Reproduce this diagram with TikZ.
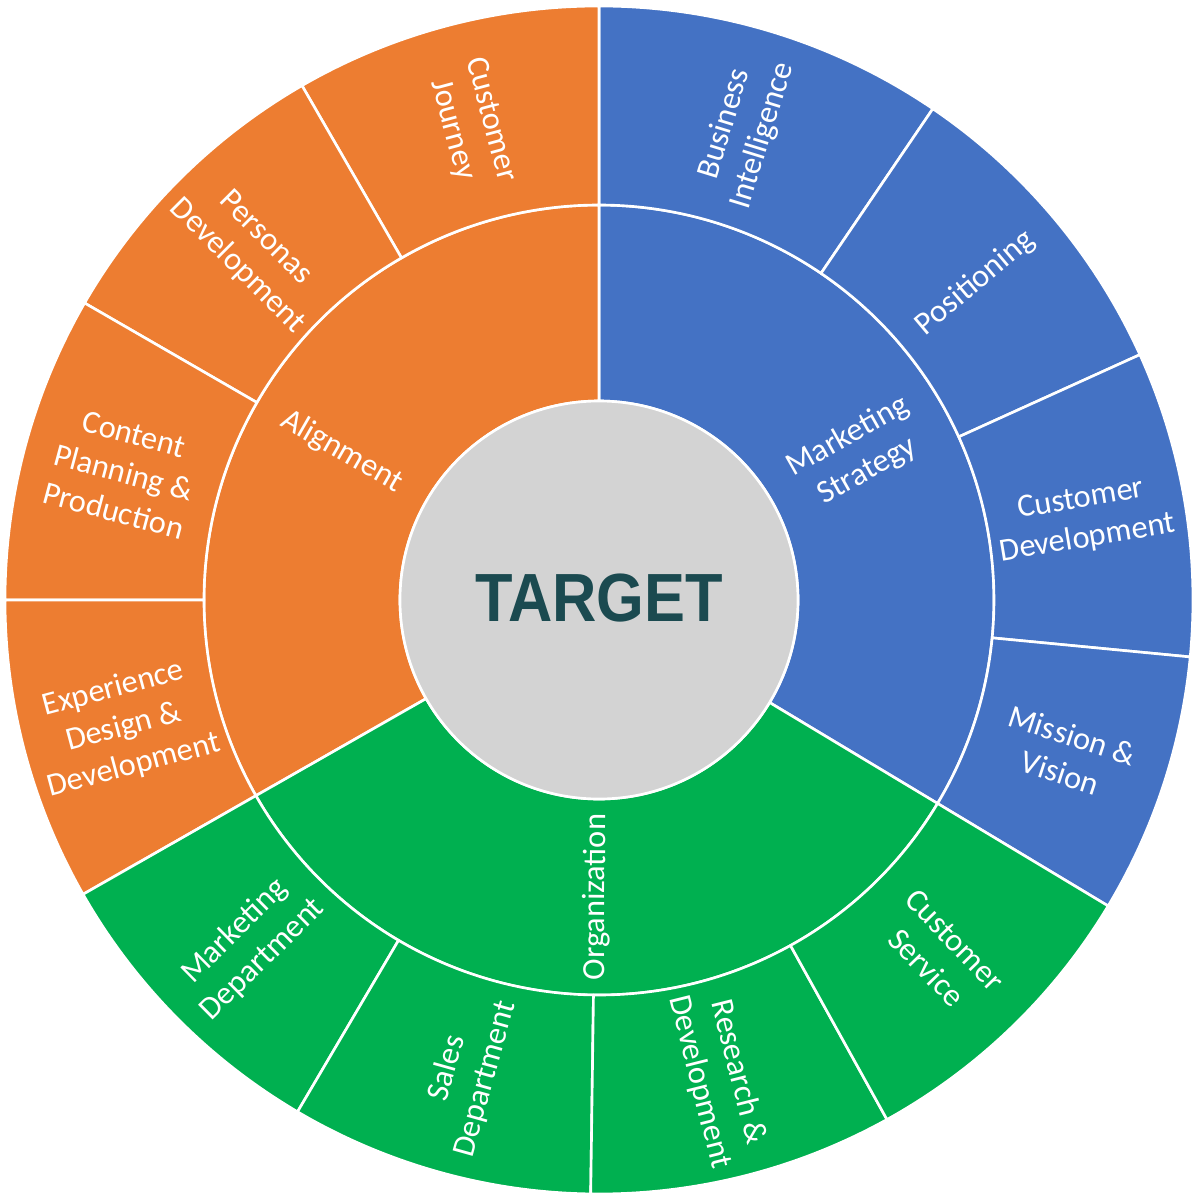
\documentclass[tikz,border=0pt]{standalone}
\usepackage{fontspec}
\setmainfont{Carlito}
\newfontfamily\targetfont{Liberation Sans}
\definecolor{sbBlue}{HTML}{4472C4}
\definecolor{sbOrange}{HTML}{ED7D31}
\definecolor{sbGreen}{HTML}{00B050}
\definecolor{sbGray}{HTML}{D3D3D3}
\definecolor{sbTeal}{RGB}{27,74,80}
\newcommand{\sbSector}[5]{% color, a1, a2, r1, r2
  \filldraw[fill=#1, sector] (#2:#4) arc[start angle=#2, end angle=#3, radius=#4]
    -- (#3:#5) arc[start angle=#3, end angle=#2, radius=#5] -- cycle;}
\begin{document}
\begin{tikzpicture}[
  sector/.style={draw=white, line width=0.75pt, line join=round},
  lbl/.style={text=white, align=center, font=\fontsize{9.2}{11.3}\selectfont, inner sep=0pt},
]
\useasboundingbox (-5.99,-6.00) rectangle (6.01,6.00);
\def\ra{1.99}
\def\rb{3.95}
\def\rc{5.94}
% middle ring
\sbSector{sbBlue}{-31}{90}{\ra}{\rb}
\sbSector{sbOrange}{90}{209.7}{\ra}{\rb}
\sbSector{sbGreen}{209.7}{329}{\ra}{\rb}
% outer ring blue
\sbSector{sbBlue}{55.8}{90}{\rb}{\rc}
\sbSector{sbBlue}{24.4}{55.8}{\rb}{\rc}
\sbSector{sbBlue}{-5.5}{24.4}{\rb}{\rc}
\sbSector{sbBlue}{-31}{-5.5}{\rb}{\rc}
% outer ring orange
\sbSector{sbOrange}{90}{120}{\rb}{\rc}
\sbSector{sbOrange}{120}{150}{\rb}{\rc}
\sbSector{sbOrange}{150}{180}{\rb}{\rc}
\sbSector{sbOrange}{180}{209.7}{\rb}{\rc}
% outer ring green
\sbSector{sbGreen}{209.7}{239.5}{\rb}{\rc}
\sbSector{sbGreen}{239.5}{269.2}{\rb}{\rc}
\sbSector{sbGreen}{269.2}{299}{\rb}{\rc}
\sbSector{sbGreen}{299}{329}{\rb}{\rc}
% center
\filldraw[fill=sbGray, sector] (0,0) circle[radius=\ra];
\node[text=sbTeal, inner sep=0pt] (target) at (0,0.02)
  {\targetfont\bfseries\fontsize{19.4}{20}\selectfont\scalebox{0.9}[1]{TARGET}};
% middle labels
\node[lbl, rotate=29.5] (ms) at (29.5:2.97) {Marketing\\Strategy};
\node[lbl, rotate=-30] (al) at (150:2.97) {Alignment};
\node[lbl, rotate=89.5] (org) at (269.5:2.97) {Organization};
% outer labels
\node[lbl, rotate=72.9] (bi) at (72.9:4.92) {Business\\Intelligence};
\node[lbl, rotate=40.1] (pos) at (40.1:4.92) {Positioning};
\node[lbl, rotate=9.45] (cd) at (9.45:4.92) {Customer\\Development};
\node[lbl, rotate=-18.25] (mv) at (-18.25:4.92) {Mission \&\\Vision};
\node[lbl, rotate=-75] (cj) at (105:4.92) {Customer\\Journey};
\node[lbl, rotate=-45] (pd) at (135:4.92) {Personas\\Development};
\node[lbl, rotate=-15] (cpp) at (165:4.92) {Content\\Planning \&\\Production};
\node[lbl, rotate=15] (edd) at (195:4.92) {Experience\\Design \&\\Development};
\node[lbl, rotate=44.6] (md) at (224.6:4.92) {Marketing\\Department};
\node[lbl, rotate=74.35] (sd) at (254.35:4.92) {Sales\\Department};
\node[lbl, rotate=-75.9] (rd) at (284.1:4.92) {Research \&\\Development};
\node[lbl, rotate=-46] (cs) at (314:4.92) {Customer\\Service};
\end{tikzpicture}
\end{document}
